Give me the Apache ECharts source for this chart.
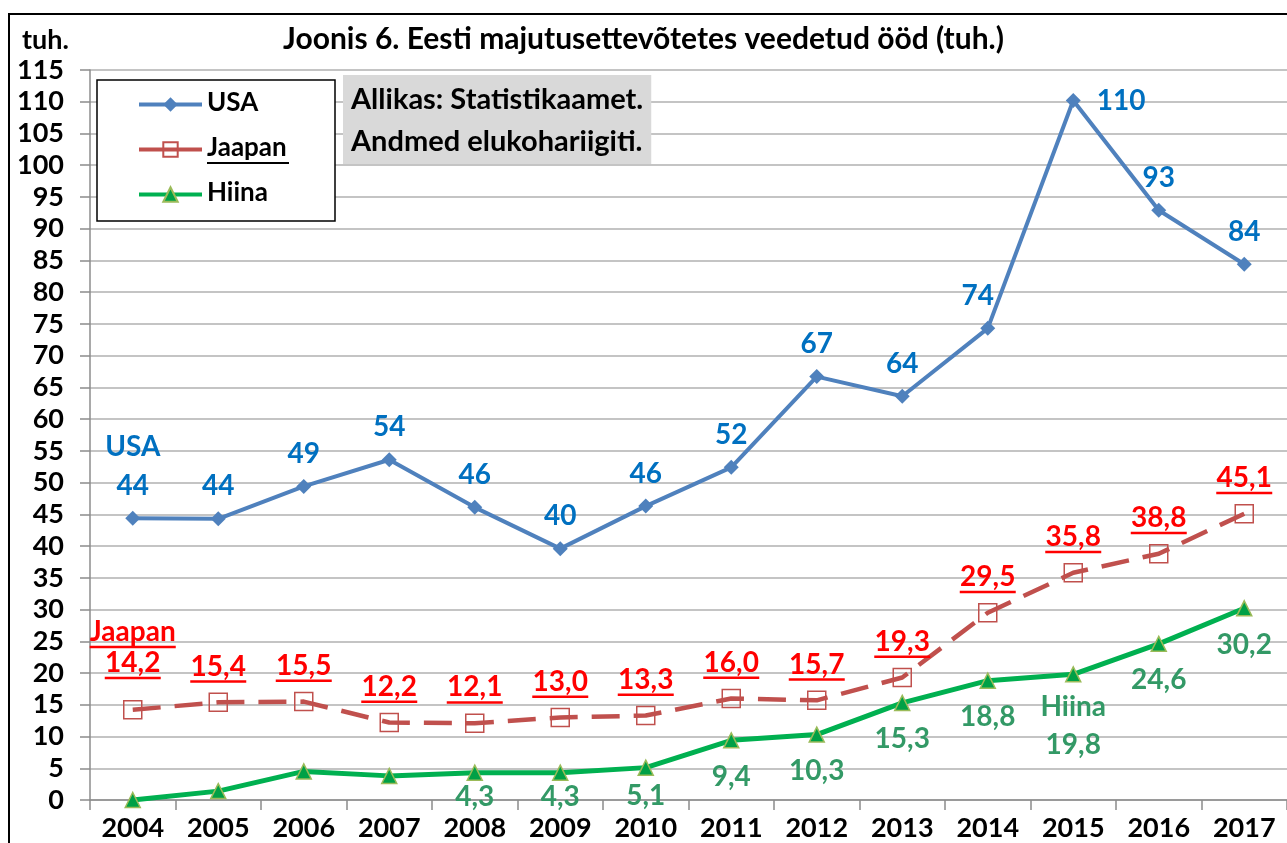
<!DOCTYPE html>
<html>
<head>
<meta charset="utf-8">
<script src="https://cdn.jsdelivr.net/npm/echarts@6/dist/echarts.min.js"></script>
<style>
  html, body { margin: 0; padding: 0; background: #fff; }
  #chart { width: 1287px; height: 843px; }
</style>
</head>
<body>
<div id="chart"></div>
<script>
// andmed (tuh. ööd)
const years = ['2004', '2005', '2006', '2007', '2008', '2009', '2010', '2011', '2012', '2013', '2014', '2015', '2016', '2017'];
const usa = [44.4, 44.3, 49.4, 53.6, 46.1, 39.6, 46.3, 52.4, 66.7, 63.6, 74.3, 110.2, 92.9, 84.4];
const jaapan = [14.2, 15.4, 15.5, 12.2, 12.1, 13.0, 13.3, 16.0, 15.7, 19.3, 29.5, 35.8, 38.8, 45.1];
const hiina = [0, 1.4, 4.5, 3.8, 4.3, 4.3, 5.1, 9.4, 10.3, 15.3, 18.8, 19.8, 24.6, 30.2];
const yMin = 0, yMax = 115, yStep = 5;

const FONT = 'Lato, "Open Sans", sans-serif';

// teksti laius alljoone jaoks
function textWidth(s, size) {
  const ctx = document.createElement('canvas').getContext('2d');
  ctx.font = 'bold ' + size + 'px ' + FONT;
  return Math.ceil(ctx.measureText(s).width);
}
const fmt1 = v => v.toFixed(1).replace('.', ',');

const labelSize = 28;
const legendSize = 26;
const wNum = textWidth('14,2', labelSize);
const wName = textWidth('Jaapan', labelSize);
const wLegend = textWidth('Jaapan', legendSize) + 2;

// USA punktid
const usaData = usa.map((v, i) => {
  if (i === 0) return { value: v, label: { lineHeight: 39, distance: 5 } };
  if (i === 10) return { value: v, label: { offset: [-10, 0] } };
  if (i === 11) return { value: v, label: { position: 'right', distance: 16 } };
  return v;
});

// Jaapan punktid
const jaapanData = jaapan.map((v, i) => i === 0 ? { value: v, label: { distance: 20 } } : v);

// Hiina punktid
const hiinaData = hiina.map((v, i) => {
  if (i < 4) return { value: v, label: { show: false } };
  if (i === 4 || i === 5) return { value: v, label: { offset: [0, -12] } };
  if (i === 6) return { value: v, label: { offset: [0, -8] } };
  if (i === 11) return { value: v, label: { lineHeight: 38, distance: 5 } };
  return v;
});

const myChart = echarts.init(document.getElementById('chart'));
myChart.setOption({
  animation: false,
  backgroundColor: '#fff',
  textStyle: { fontFamily: FONT },
  title: [
    {
      text: 'Joonis 6. Eesti majutusettevõtetes veedetud ööd (tuh.)',
      left: 'center', top: 24, padding: 0,
      textStyle: { fontSize: 30, fontWeight: 'bold', color: '#000', fontFamily: FONT }
    },
    {
      text: 'tuh.',
      left: 22, top: 27, padding: 0,
      textStyle: { fontSize: 27, fontWeight: 'bold', color: '#000', fontFamily: FONT }
    },
    {
      text: 'Allikas: Statistikaamet.\nAndmed elukohariigiti.',
      left: 343, top: 75, padding: [4, 8, 1, 8],
      backgroundColor: '#d9d9d9',
      textStyle: { fontSize: 29, fontWeight: 'bold', color: '#000', fontFamily: FONT, lineHeight: 42 }
    }
  ],
  legend: {
    orient: 'vertical',
    left: 97, top: 80,
    backgroundColor: '#fff',
    borderColor: '#000', borderWidth: 1.5, borderRadius: 0,
    padding: [10, 46, 0, 40],
    itemGap: 4, itemWidth: 63, itemHeight: 18,
    textStyle: {
      fontSize: legendSize, fontWeight: 'bold', color: '#000', fontFamily: FONT,
      rich: {
        t: { fontSize: legendSize, fontWeight: 'bold', color: '#000', fontFamily: FONT, lineHeight: 27 },
        u: { width: wLegend, height: 2, lineHeight: 3, backgroundColor: '#000' },
        x: { height: 2, lineHeight: 3 }
      }
    },
    formatter: name => name === 'Jaapan' ? '{t|Jaapan}\n{u|}' : '{t|' + name + '}\n{x|}',
    data: [
      { name: 'USA', lineStyle: { width: 4 } },
      { name: 'Jaapan', lineStyle: { type: 'solid', width: 4 } },
      { name: 'Hiina', lineStyle: { width: 4 } }
    ]
  },
  grid: { left: 90, right: -6, top: 70, bottom: 43 },
  xAxis: {
    type: 'category',
    data: years,
    boundaryGap: true,
    axisLine: { lineStyle: { color: '#8c8c8c', width: 1.5 } },
    axisTick: { show: true, length: 10, interval: 0, lineStyle: { color: '#8c8c8c', width: 1.5 } },
    axisLabel: { color: '#000', fontSize: 27, fontWeight: 'bold', fontFamily: FONT, margin: 15, interval: 0 },
    splitLine: { show: false }
  },
  yAxis: {
    type: 'value',
    min: yMin, max: yMax, interval: yStep,
    axisLine: { show: true, lineStyle: { color: '#8c8c8c', width: 1.5 } },
    axisTick: { show: true, length: 10, lineStyle: { color: '#8c8c8c', width: 1.5 } },
    axisLabel: { color: '#000', fontSize: 27, fontWeight: 'bold', fontFamily: FONT, margin: 26 },
    splitLine: { lineStyle: { color: '#c4c4c4', width: 2 } }
  },
  graphic: [
    {
      type: 'polyline', silent: true, z: 100,
      shape: { points: [[9, 843], [9, 14], [1287, 14]] },
      style: { stroke: '#000', lineWidth: 2, fill: null }
    }
  ],
  series: [
    {
      name: 'USA',
      type: 'line',
      data: usaData,
      symbol: 'diamond', symbolSize: 15,
      lineStyle: { color: '#4f81bd', width: 4 },
      itemStyle: { color: '#4f81bd' },
      label: {
        show: true, position: 'top', distance: 11,
        color: '#0070c0', fontSize: labelSize, fontWeight: 'bold', fontFamily: FONT,
        formatter: p => (p.dataIndex === 0 ? 'USA\n' : '') + Math.round(p.value)
      },
      z: 3
    },
    {
      name: 'Jaapan',
      type: 'line',
      data: jaapanData,
      symbol: 'rect', symbolSize: 18,
      lineStyle: { color: '#c0504d', width: 4.5, type: [28, 14] },
      itemStyle: { color: 'rgba(255,255,255,0)', borderColor: '#c0504d', borderWidth: 1.5 },
      label: {
        show: true, position: 'top', distance: 9,
        formatter: p => p.dataIndex === 0
          ? '{n|Jaapan}\n{un|}\n{g|}\n{v|' + fmt1(p.value) + '}\n{u|}'
          : '{v|' + fmt1(p.value) + '}\n{u|}',
        rich: {
          v: { color: '#ff0000', fontSize: labelSize, fontWeight: 'bold', fontFamily: FONT, lineHeight: 26 },
          u: { width: wNum, height: 2.5, lineHeight: 4, backgroundColor: '#ff0000' },
          n: { color: '#ff0000', fontSize: labelSize, fontWeight: 'bold', fontFamily: FONT, lineHeight: 26 },
          un: { width: wName, height: 2.5, lineHeight: 4, backgroundColor: '#ff0000' },
          g: { height: 1, lineHeight: 1 }
        }
      },
      z: 4
    },
    {
      name: 'Hiina',
      type: 'line',
      data: hiinaData,
      symbol: 'triangle', symbolSize: 15,
      lineStyle: { color: '#00b050', width: 5 },
      itemStyle: { color: '#00a046', borderColor: '#9bbb59', borderWidth: 1.5 },
      label: {
        show: true, position: 'bottom', distance: 14,
        color: '#339966', fontSize: labelSize, fontWeight: 'bold', fontFamily: FONT,
        formatter: p => (p.dataIndex === 11 ? 'Hiina\n' : '') + fmt1(p.value)
      },
      z: 5
    }
  ]
});
window.onresize = function () {
  myChart.resize();
};
</script>
</body>
</html>
